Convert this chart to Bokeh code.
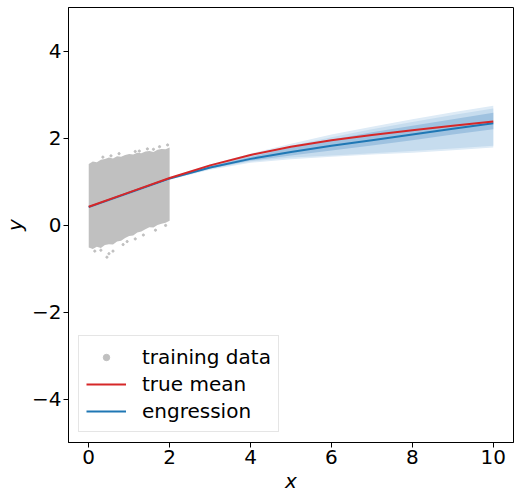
from bokeh.plotting import figure
from bokeh.models import Range1d, FixedTicker, Legend, LegendItem
from bokeh.embed import file_html
from bokeh.resources import INLINE

# ---- data ----
curve_x = [0, 1, 2, 3, 4, 5, 6, 7, 8, 9, 10]
true_mean = [0.42, 0.75, 1.08, 1.37, 1.61, 1.80, 1.95, 2.07, 2.18, 2.28, 2.38]
engression = [0.41, 0.74, 1.07, 1.32, 1.52, 1.68, 1.82, 1.95, 2.08, 2.21, 2.34]

outer_lo = [0.39, 0.72, 1.04, 1.27, 1.43, 1.51, 1.57, 1.62, 1.66, 1.72, 1.78]
outer_hi = [0.43, 0.76, 1.09, 1.39, 1.64, 1.87, 2.08, 2.26, 2.43, 2.59, 2.74]
mid_lo = [0.40, 0.73, 1.05, 1.29, 1.46, 1.55, 1.60, 1.65, 1.70, 1.76, 1.82]
mid_hi = [0.42, 0.75, 1.08, 1.36, 1.60, 1.82, 2.02, 2.20, 2.37, 2.53, 2.68]
dark_lo = [0.40, 0.73, 1.06, 1.30, 1.48, 1.60, 1.71, 1.83, 1.95, 2.08, 2.20]
dark_hi = [0.42, 0.75, 1.08, 1.35, 1.57, 1.78, 1.96, 2.13, 2.28, 2.43, 2.58]

# training data cloud: dense envelope + stray points at its edges
cloud_x = [0.0, 0.1, 0.2, 0.3, 0.4, 0.5, 0.6, 0.7, 0.8, 0.9, 1.0,
           1.1, 1.2, 1.3, 1.4, 1.5, 1.6, 1.7, 1.8, 1.9, 2.0]
cloud_hi = [1.40, 1.46, 1.44, 1.50, 1.52, 1.55, 1.53, 1.58, 1.57, 1.61, 1.63,
            1.62, 1.66, 1.65, 1.69, 1.70, 1.68, 1.73, 1.75, 1.74, 1.78]
cloud_lo = [-0.52, -0.55, -0.50, -0.53, -0.46, -0.44, -0.45, -0.38, -0.36, -0.30, -0.25,
            -0.24, -0.17, -0.15, -0.10, -0.05, -0.06, 0.00, 0.03, 0.05, 0.10]
stray_x = [0.35, 0.75, 1.15, 1.45, 1.75, 1.95, 0.15, 0.30, 0.50, 0.60, 0.85,
           1.15, 1.35, 1.65, 1.90, 0.45, 1.25, 0.55, 1.60, 0.95]
stray_y = [1.56, 1.64, 1.69, 1.75, 1.80, 1.84, -0.60, -0.58, -0.66, -0.60, -0.45,
           -0.32, -0.23, -0.12, -0.01, -0.74, 1.70, 1.59, 1.74, -0.38]

x_ticks = [0, 2, 4, 6, 8, 10]
y_ticks = [-4, -2, 0, 2, 4]

FONT = "DejaVu Sans"

p = figure(width=520, height=498, x_range=Range1d(-0.5, 10.5), y_range=Range1d(-5, 5),
           output_backend="svg", toolbar_location=None,
           min_border_left=67, min_border_right=7, min_border_top=7, min_border_bottom=56)
p.background_fill_color = "white"
p.border_fill_color = "white"
p.grid.visible = False
p.outline_line_color = "black"
p.outline_line_width = 1

# training data
p.varea(x=cloud_x, y1=cloud_lo, y2=cloud_hi, fill_color="#c0c0c0")
r_train = p.scatter(x=stray_x, y=stray_y, size=2.2, color="#c0c0c0")

# engression bands
p.varea(x=curve_x, y1=outer_lo, y2=outer_hi, fill_color="#deebf6")
p.varea(x=curve_x, y1=mid_lo, y2=mid_hi, fill_color="#c6dcee")
p.varea(x=curve_x, y1=dark_lo, y2=dark_hi, fill_color="#9fc2e0")

r_eng = p.line(x=curve_x, y=engression, line_color="#1f77b4", line_width=2)
r_true = p.line(x=curve_x, y=true_mean, line_color="#d62728", line_width=2)

legend = Legend(items=[LegendItem(label="training data", renderers=[r_train]),
                       LegendItem(label="true mean", renderers=[r_true]),
                       LegendItem(label="engression", renderers=[r_eng])],
                location=(10, 10), margin=0, padding=7, spacing=0,
                glyph_width=40, glyph_height=16, label_height=27, label_standoff=16,
                label_text_font=FONT, label_text_font_size="20px", label_text_color="black",
                border_line_color="#cccccc", border_line_width=1,
                background_fill_color="white", background_fill_alpha=0.8)
p.add_layout(legend)

for ax in (p.xaxis[0], p.yaxis[0]):
    ax.major_label_text_font = FONT
    ax.major_label_text_font_size = "20px"
    ax.major_label_text_color = "black"
    ax.axis_label_text_font = FONT
    ax.axis_label_text_font_size = "20px"
    ax.axis_label_text_font_style = "italic"
    ax.axis_label_text_color = "black"
    ax.axis_line_color = "black"
    ax.major_tick_line_color = "black"
    ax.major_tick_out = 5
    ax.major_tick_in = 0
    ax.minor_tick_line_color = None
    ax.major_label_standoff = 2
    ax.axis_label_standoff = 2

p.xaxis.ticker = FixedTicker(ticks=x_ticks)
p.yaxis.ticker = FixedTicker(ticks=y_ticks)
p.yaxis.major_label_overrides = {t: ("\u2212" + str(abs(t)) if t < 0 else str(t)) for t in y_ticks}
p.xaxis.axis_label = "x"
p.yaxis.axis_label = "y"

open("out.html", "w").write(file_html(p, INLINE))
